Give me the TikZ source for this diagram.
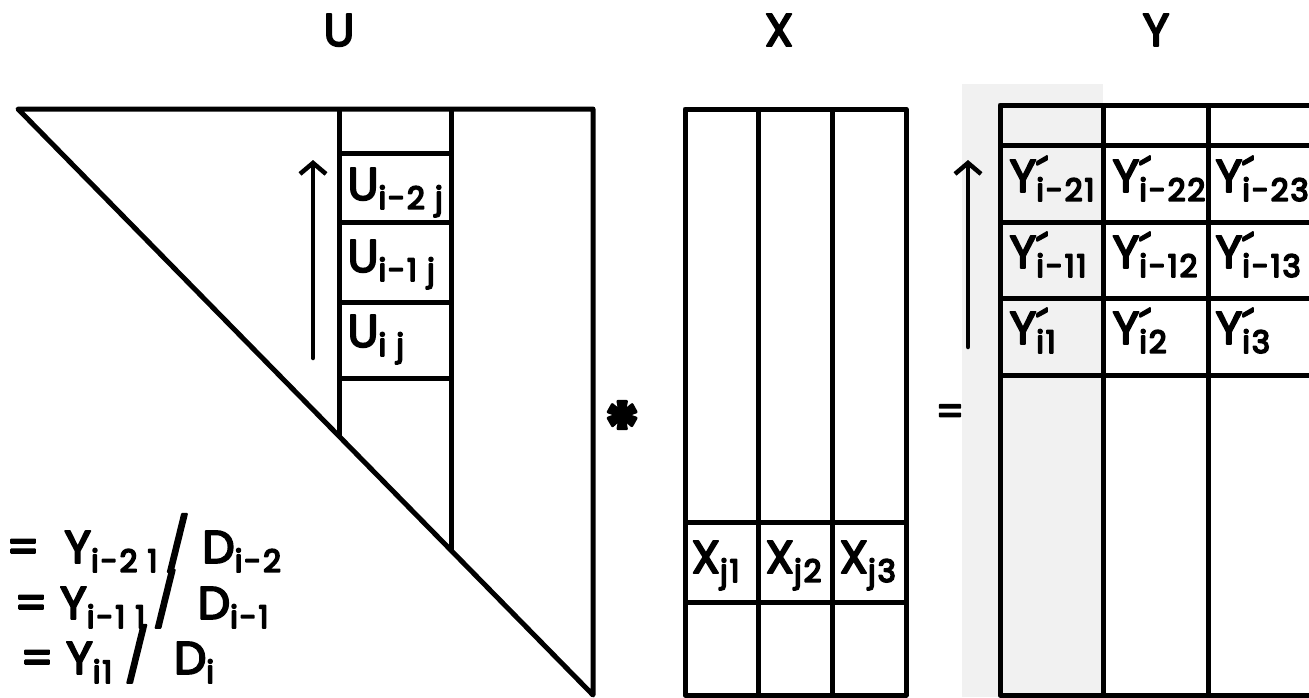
\documentclass[tikz,border=0pt]{standalone}
\usepackage{fontspec}
\setmainfont{Poppins}[FakeBold=4]
\usetikzlibrary{arrows.meta}
\newcommand\lsub[1]{\raisebox{-9pt}{\fontsize{31}{31}\selectfont\addfontfeature{LetterSpace=6,FakeBold=5.5}#1}}
\newcommand\Yp{Y\rlap{\raisebox{0pt}{´}}}
\newcommand\slsh{{\fontsize{52}{52}\selectfont /}}
\begin{document}
\begin{tikzpicture}[x=1pt,y=-1pt, line width=5pt, line join=round,
  every node/.style={inner sep=0pt},
  big/.style={font=\fontsize{46}{46}\selectfont},
  cell/.style={big, anchor=base west, text height=33pt, text depth=13pt},
  lab/.style={big, anchor=base, text height=33pt, text depth=0pt},
  upar/.style={line width=4.5pt, line cap=round, -{Straight Barb[length=11pt,width=26pt,line width=4.5pt]}}]
\useasboundingbox (0,0) rectangle (1309,697);
\fill[gray!11] (962,84) rectangle (1103,697);

% ---------- U ----------
\node[lab] (labU) at (339,46) {U};
\coordinate (uA) at (18,109);
\coordinate (uB) at (593,109);
\coordinate (uC) at (593,695);
\draw (uA) -- (uB) -- (uC) -- cycle;
\draw (339,109) -- (339,436);
\draw (451,109) -- (451,550);
\foreach \y in {153,222,302,378} \draw (339,\y) -- (451,\y);
\node[cell] (u2) at (345,200) {U\lsub{i-2 j}};
\node[cell] (u1) at (345,272) {U\lsub{i-1 j}};
\node[cell] (u0) at (345,347) {U\lsub{i j}};
\coordinate (ua0) at (313,358);
\coordinate (ua1) at (313,160);
\draw[upar] (ua0) -- (ua1);

% ---------- operator ----------
\node[font=\fontsize{72}{72}\selectfont\bfseries] (star) at (622,428) {*};
\node[font=\fontsize{40}{40}\selectfont] (eq) at (950,415) {=};

% ---------- X ----------
\node[lab] (labX) at (779,46) {X};
\draw (685,109) rectangle (906,695);
\draw (758,109) -- (758,695);
\draw (832,109) -- (832,695);
\draw (685,522) -- (906,522);
\draw (685,602) -- (906,602);
\node[cell] (x1) at (689,573) {X\lsub{j1}};
\node[cell] (x2) at (763,573) {X\lsub{j2}};
\node[cell] (x3) at (837,573) {X\lsub{j3}};

% ---------- Y ----------
\node[lab] (labY) at (1156,46) {Y};
\draw (1312,105) -- (1000,105) -- (1000,695) -- (1312,695);
\draw (1103,105) -- (1103,695);
\draw (1208,105) -- (1208,695);
\foreach \y in {145,222,298,375} \draw (1000,\y) -- (1312,\y);
\node[cell] (y21) at (1007,192) {\Yp\lsub{i-21}};
\node[cell] (y22) at (1110,192) {\Yp\lsub{i-22}};
\node[cell] (y23) at (1213,192) {\Yp\lsub{i-23}};
\node[cell] (y11) at (1007,268) {\Yp\lsub{i-11}};
\node[cell] (y12) at (1110,268) {\Yp\lsub{i-12}};
\node[cell] (y13) at (1213,268) {\Yp\lsub{i-13}};
\node[cell] (y01) at (1007,344) {\Yp\lsub{i1}};
\node[cell] (y02) at (1110,344) {\Yp\lsub{i2}};
\node[cell] (y03) at (1213,344) {\Yp\lsub{i3}};
\coordinate (ya0) at (968,347);
\coordinate (ya1) at (968,160);
\draw[upar] (ya0) -- (ya1);

% ---------- equations ----------
\node[cell] (e1) at (4,563) {=\ \ Y\lsub{i-2 1}\,\slsh\ D\lsub{i-2}};
\node[cell] (e2) at (12,619) {= Y\lsub{i-1 1}\,\slsh\ \,D\lsub{i-1}};
\node[cell] (e3) at (18,674) {= Y\lsub{i1}\ \slsh\ \ D\lsub{i}};
\end{tikzpicture}
\end{document}
